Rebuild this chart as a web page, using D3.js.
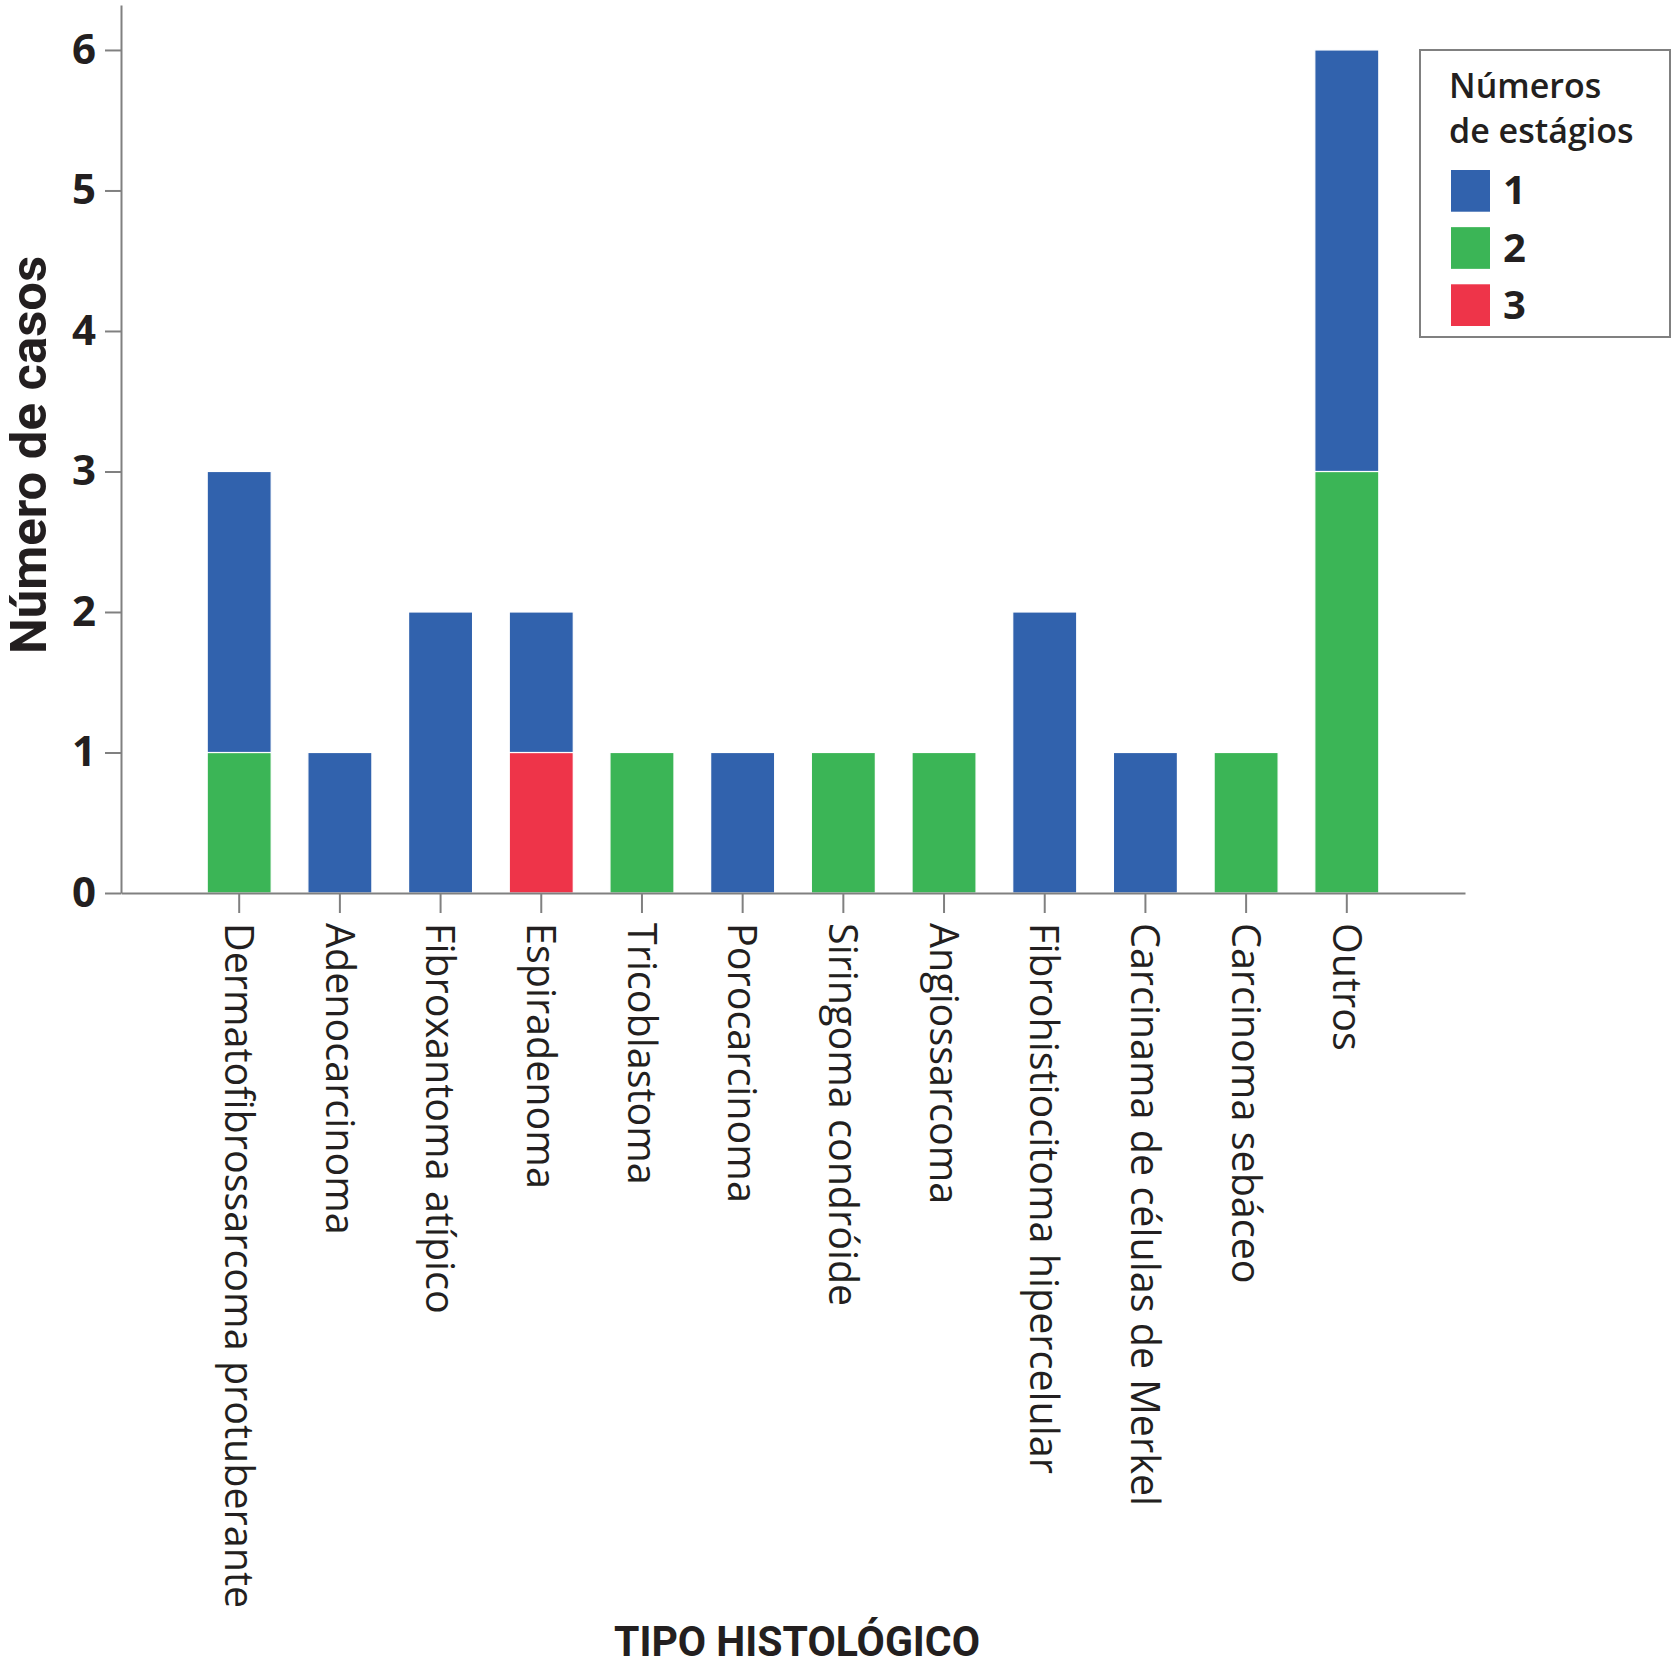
<!DOCTYPE html>
<html>
<head>
<meta charset="utf-8">
<script src="https://cdn.jsdelivr.net/npm/d3@7"></script>
<style>
  body { margin: 0; background: #fff; }
  svg { display: block; }
</style>
</head>
<body>
<svg width="1675" height="1665"></svg>
<script>
var categories = [
    "Dermatofibrossarcoma protuberante",
    "Adenocarcinoma",
    "Fibroxantoma atípico",
    "Espiradenoma",
    "Tricoblastoma",
    "Porocarcinoma",
    "Siringoma condróide",
    "Angiossarcoma",
    "Fibrohistiocitoma hipercelular",
    "Carcinama de células de Merkel",
    "Carcinoma sebáceo",
    "Outros"
];

// casos por número de estágios
var stage1 = [2, 1, 2, 1, 0, 1, 0, 0, 2, 1, 0, 3];
var stage2 = [1, 0, 0, 0, 1, 0, 1, 1, 0, 0, 1, 3];
var stage3 = [0, 0, 0, 1, 0, 0, 0, 0, 0, 0, 0, 0];

var yTicks = [0, 1, 2, 3, 4, 5, 6];

var stageNames = ["1", "2", "3"];
var stageColors = ["#3162ad", "#3bb556", "#ee3449"];

var rows = categories.map(function(c, i){
    return { cat: c, s1: stage1[i], s2: stage2[i], s3: stage3[i] };
});

var color = d3.scaleOrdinal()
    .domain(["s1", "s2", "s3"])
    .range(stageColors);

// verde e vermelho em baixo, azul em cima
var series = d3.stack().keys(["s2", "s3", "s1"])(rows);

var xScale = d3.scaleBand()
    .domain(categories)
    .range([121, 1465])
    .paddingInner(0.3644)
    .paddingOuter(0.856);

var yScale = d3.scaleLinear()
    .domain([0, 6.32])
    .range([893, 5]);

var svg = d3.select('svg');

svg.append('g')
    .selectAll('g')
    .data(series)
    .enter()
    .append('g')
    .style('fill', function(d){ return color(d.key); })
    .selectAll('rect')
    .data(function(d){ return d.filter(function(p){ return p[1] > p[0]; }); })
    .enter()
    .append('rect')
    .attr('x', function(d){ return xScale(d.data.cat); })
    .attr('y', function(d){ return yScale(d[1]); })
    .attr('width', xScale.bandwidth())
    .attr('height', function(d){ return yScale(d[0]) - yScale(d[1]); })
    .style('stroke', '#fff')
    .style('stroke-width', 1.2);

var xAxis = d3.axisBottom(xScale).tickSize(20).tickSizeOuter(0);

var gx = svg.append('g')
    .attr('class', 'x axis')
    .attr('transform', 'translate(0,' + yScale(0) + ')')
    .call(xAxis);

gx.selectAll('text')
    .attr('transform', 'rotate(90)')
    .attr('x', 30)
    .attr('y', 0)
    .attr('dy', '0.36em')
    .style('text-anchor', 'start')
    .style('font-family', '"Open Sans", sans-serif')
    .style('font-size', '39.5px')
    .style('fill', '#231f20');

var yAxis = d3.axisLeft(yScale)
    .tickValues(yTicks)
    .tickFormat(d3.format('d'))
    .tickSize(16)
    .tickSizeOuter(0)
    .tickPadding(9);

var gy = svg.append('g')
    .attr('class', 'y axis')
    .attr('transform', 'translate(121,0)')
    .call(yAxis);

gy.selectAll('text')
    .style('font-family', '"Open Sans", sans-serif')
    .style('font-weight', 700)
    .style('font-size', '42px')
    .style('fill', '#231f20');

svg.selectAll('.axis path, .axis line')
    .style('stroke', '#808080')
    .style('stroke-width', 2);

svg.append('text')
   .attr('class', 'y label')
   .attr('transform', 'translate(46,455)rotate(-90)')
   .attr('text-anchor', 'middle')
   .attr('textLength', 398)
   .attr('lengthAdjust', 'spacingAndGlyphs')
   .style('font-family', '"Liberation Sans Narrow", Roboto, sans-serif')
   .style('font-weight', 700)
   .style('font-size', '50px')
   .style('fill', '#231f20')
   .text('Número de casos');

svg.append('text')
   .attr('class', 'x label')
   .attr('x', 797)
   .attr('y', 1656)
   .attr('text-anchor', 'middle')
   .attr('textLength', 366)
   .attr('lengthAdjust', 'spacingAndGlyphs')
   .style('font-family', '"Liberation Sans Narrow", Roboto, sans-serif')
   .style('font-weight', 700)
   .style('font-size', '43px')
   .style('fill', '#231f20')
   .text('TIPO HISTOLÓGICO');

// legenda
var legend = svg.append('g').attr('class', 'legend');

legend.append('rect')
    .attr('x', 1420)
    .attr('y', 50)
    .attr('width', 250)
    .attr('height', 287)
    .style('fill', '#fff')
    .style('stroke', '#808080')
    .style('stroke-width', 2);

legend.selectAll('text.title')
    .data(['Números', 'de estágios'])
    .enter()
    .append('text')
    .attr('class', 'title')
    .attr('x', 1449)
    .attr('y', function(d, i){ return 98 + i * 45; })
    .style('font-family', '"Open Sans", sans-serif')
    .style('font-weight', 600)
    .style('font-size', '34px')
    .style('fill', '#231f20')
    .text(function(d){ return d; });

var lScale = d3.scaleBand()
    .domain(stageNames)
    .range([170, 326])
    .paddingInner(0.27);

var item = legend.selectAll('g.item')
    .data(stageNames)
    .enter()
    .append('g')
    .attr('class', 'item');

item.append('rect')
    .attr('x', 1451)
    .attr('y', function(d){ return lScale(d); })
    .attr('width', 39)
    .attr('height', lScale.bandwidth())
    .style('fill', function(d, i){ return stageColors[i]; });

item.append('text')
    .attr('x', 1503)
    .attr('y', function(d){ return lScale(d) + lScale.bandwidth() / 2; })
    .attr('dy', '0.34em')
    .style('font-family', '"Open Sans", sans-serif')
    .style('font-weight', 700)
    .style('font-size', '40px')
    .style('fill', '#231f20')
    .text(function(d){ return d; });
</script>
</body>
</html>
